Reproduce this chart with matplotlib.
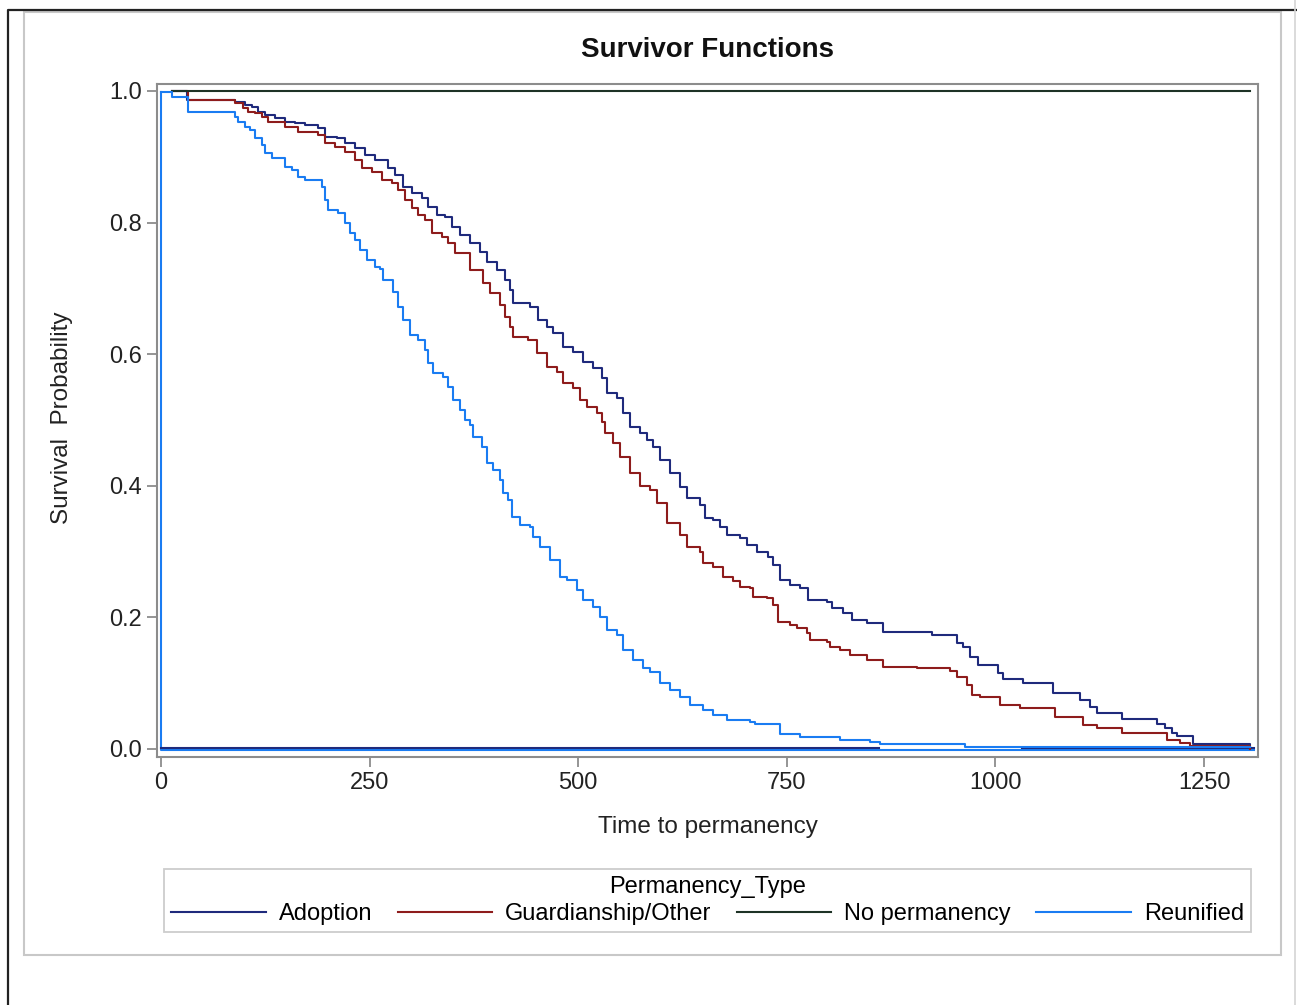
import numpy as np
import matplotlib
matplotlib.use('Agg')
import matplotlib.pyplot as plt
from matplotlib.lines import Line2D
from matplotlib.patches import Rectangle

plt.rcParams['font.family'] = ['Liberation Sans', 'DejaVu Sans']

# survivor function step data (time, survival)
t_adopt = [13, 31, 89, 101, 109, 116, 125, 137, 149, 161, 173, 188, 197, 211, 221, 233, 244, 256,
           272, 280, 290, 301, 313, 320, 331, 340, 349, 358, 370, 382, 391, 403, 412, 418, 422, 442,
           452, 463, 470, 482, 494, 506, 518, 529, 535, 547, 554, 562, 574, 582, 590, 598, 610, 622,
           630, 646, 652, 662, 670, 678, 694, 702, 714, 727, 733, 742, 754, 766, 775, 798, 804, 817,
           828, 846, 865, 924, 954, 961, 970, 979, 1003, 1009, 1033, 1069, 1101, 1113, 1122, 1152,
           1194, 1203, 1212, 1218, 1237, 1305]
s_adopt = [1.000, 0.986, 0.983, 0.979, 0.976, 0.968, 0.964, 0.959, 0.953, 0.951, 0.948, 0.944, 0.930,
           0.929, 0.921, 0.913, 0.903, 0.895, 0.883, 0.872, 0.854, 0.845, 0.837, 0.824, 0.812, 0.809,
           0.793, 0.781, 0.769, 0.755, 0.740, 0.728, 0.713, 0.698, 0.678, 0.672, 0.652, 0.641, 0.632,
           0.611, 0.603, 0.588, 0.579, 0.564, 0.541, 0.533, 0.511, 0.489, 0.480, 0.470, 0.459, 0.439,
           0.419, 0.398, 0.381, 0.371, 0.351, 0.348, 0.337, 0.325, 0.321, 0.310, 0.299, 0.292, 0.280,
           0.257, 0.249, 0.245, 0.226, 0.223, 0.214, 0.207, 0.196, 0.191, 0.178, 0.173, 0.161, 0.155,
           0.140, 0.128, 0.115, 0.106, 0.100, 0.085, 0.074, 0.064, 0.055, 0.046, 0.038, 0.032, 0.024,
           0.020, 0.008, 0.0015]

t_guard = [13, 32, 89, 98, 104, 113, 121, 128, 149, 164, 188, 197, 209, 221, 233, 241, 253, 265, 277,
           284, 292, 301, 308, 316, 325, 337, 344, 352, 370, 386, 394, 406, 412, 418, 422, 440, 451,
           463, 475, 482, 494, 502, 511, 523, 529, 532, 542, 550, 562, 574, 586, 594, 606, 622, 630,
           646, 650, 662, 674, 686, 694, 706, 710, 726, 733, 739, 754, 762, 774, 778, 798, 802, 814,
           826, 846, 865, 906, 946, 954, 966, 972, 982, 1006, 1030, 1071, 1105, 1122, 1152, 1206,
           1221, 1233, 1305]
s_guard = [1.000, 0.986, 0.982, 0.974, 0.968, 0.967, 0.960, 0.953, 0.945, 0.938, 0.933, 0.921, 0.915,
           0.907, 0.895, 0.883, 0.877, 0.865, 0.860, 0.850, 0.834, 0.822, 0.812, 0.804, 0.784, 0.778,
           0.769, 0.754, 0.728, 0.708, 0.693, 0.675, 0.657, 0.641, 0.626, 0.622, 0.602, 0.581, 0.573,
           0.556, 0.549, 0.530, 0.520, 0.511, 0.497, 0.480, 0.465, 0.444, 0.419, 0.400, 0.394, 0.374,
           0.343, 0.325, 0.307, 0.299, 0.283, 0.277, 0.261, 0.255, 0.246, 0.245, 0.231, 0.229, 0.219,
           0.193, 0.188, 0.184, 0.176, 0.166, 0.163, 0.155, 0.150, 0.143, 0.135, 0.125, 0.123, 0.119,
           0.109, 0.097, 0.082, 0.079, 0.067, 0.062, 0.049, 0.036, 0.032, 0.024, 0.014, 0.009, 0.005,
           0.0005]

t_nop = [13, 1305]
s_nop = [1.0, 1.0]

t_reun = [0, 13, 32, 89, 92, 101, 107, 113, 121, 125, 133, 149, 157, 164, 173, 193, 197, 200, 212,
          221, 227, 233, 239, 247, 256, 262, 266, 278, 284, 290, 298, 308, 316, 320, 326, 338, 344,
          350, 358, 364, 370, 374, 385, 391, 398, 406, 410, 416, 421, 430, 442, 446, 454, 466, 478,
          487, 499, 506, 518, 526, 535, 547, 554, 566, 578, 586, 598, 610, 622, 634, 650, 662, 678,
          706, 712, 742, 766, 814, 850, 862, 964, 1305]
s_reun = [0.998, 0.991, 0.968, 0.960, 0.953, 0.945, 0.941, 0.929, 0.918, 0.906, 0.898, 0.884, 0.880,
          0.869, 0.865, 0.854, 0.834, 0.819, 0.815, 0.799, 0.784, 0.774, 0.758, 0.743, 0.733, 0.729,
          0.713, 0.695, 0.672, 0.652, 0.629, 0.622, 0.606, 0.587, 0.571, 0.565, 0.550, 0.530, 0.515,
          0.500, 0.492, 0.474, 0.459, 0.435, 0.424, 0.409, 0.389, 0.378, 0.353, 0.340, 0.337, 0.322,
          0.307, 0.287, 0.261, 0.257, 0.242, 0.226, 0.216, 0.201, 0.181, 0.173, 0.150, 0.135, 0.123,
          0.117, 0.100, 0.090, 0.079, 0.067, 0.059, 0.052, 0.044, 0.041, 0.038, 0.023, 0.018, 0.014,
          0.011, 0.0076, 0.003, 0.003]

# lines lying along zero
base_reun_t = [1310, 0, 0]
base_reun_s = [-0.001, -0.001, 0.998]
base_adopt_t = [[0, 860], [1032, 1310]]
base_adopt_s = [0.0015, 0.0015]

labels = ['Adoption', 'Guardianship/Other', 'No permanency', 'Reunified']
colors = ['#1f2a7c', '#8e1c1c', '#1e3326', '#1a7cf2']

W, H = 1297, 1005
fig = plt.figure(figsize=(W/100, H/100), dpi=100)

def fx(px):
    return px / W

def fy(py):
    return 1 - py / H

# page frames
fig.add_artist(Line2D([fx(8), fx(8), fx(W)], [fy(H), fy(10), fy(10)], transform=fig.transFigure,
                      color='#222222', lw=1.6))
fig.add_artist(Rectangle((fx(24), fy(955)), fx(1281) - fx(24), fy(12) - fy(955), transform=fig.transFigure,
                         fill=False, edgecolor='#c8c8c8', lw=1.5))
fig.add_artist(Line2D([fx(1295), fx(1295)], [0, 1], transform=fig.transFigure, color='#d4d4d4', lw=1.2))

ax = fig.add_axes([fx(157), fy(757), fx(1258) - fx(157), fy(84) - fy(757)])
lw = 1.5

ax.plot(base_reun_t, base_reun_s, color=colors[3], lw=lw)
for seg in base_adopt_t:
    ax.plot(seg, base_adopt_s, color=colors[0], lw=lw)

h1, = ax.step(t_adopt, s_adopt, where='post', color=colors[0], lw=lw)
h2, = ax.step(t_guard, s_guard, where='post', color=colors[1], lw=lw)
h3, = ax.step(t_nop, s_nop, where='post', color=colors[2], lw=lw)
h4, = ax.step(t_reun, s_reun, where='post', color=colors[3], lw=lw)

ax.set_xlim(-4.8, 1314.7)
ax.set_ylim(-0.0122, 1.0106)
ax.set_xticks([0, 250, 500, 750, 1000, 1250])
ax.set_yticks([0.0, 0.2, 0.4, 0.6, 0.8, 1.0])
ax.yaxis.set_major_formatter(matplotlib.ticker.FormatStrFormatter('%.1f'))
for sp in ax.spines.values():
    sp.set_color('#8c8c8c')
    sp.set_linewidth(1.5)
ax.tick_params(direction='out', length=7, width=1.3, color='#8c8c8c', labelsize=17,
               labelcolor='#222222', pad=4)

ax.set_xlabel('Time to permanency', fontsize=17.5, color='#222222')
ax.xaxis.set_label_coords(0.5, -0.088)
ax.set_ylabel('Survival  Probability', fontsize=17.5, color='#222222')
ax.yaxis.set_label_coords(-0.0763, 0.504)

fig.text((157 + 1258) / 2 / W, fy(50), 'Survivor Functions', ha='center', va='center',
         fontsize=20, fontweight='bold', color='#111111')

leg = fig.legend([h1, h2, h3, h4], labels, title='Permanency_Type', ncol=4, mode='expand',
                 loc='center', bbox_to_anchor=(fx(164), fy(932), fx(1251) - fx(164), fy(869) - fy(932)),
                 borderaxespad=0, fontsize=17, title_fontsize=17, handlelength=4.0, handletextpad=0.55,
                 fancybox=False, edgecolor='#c0c0c0', borderpad=0.3, labelspacing=0.2)
leg.get_frame().set_linewidth(1.3)

fig.savefig('out.png', dpi=100)
